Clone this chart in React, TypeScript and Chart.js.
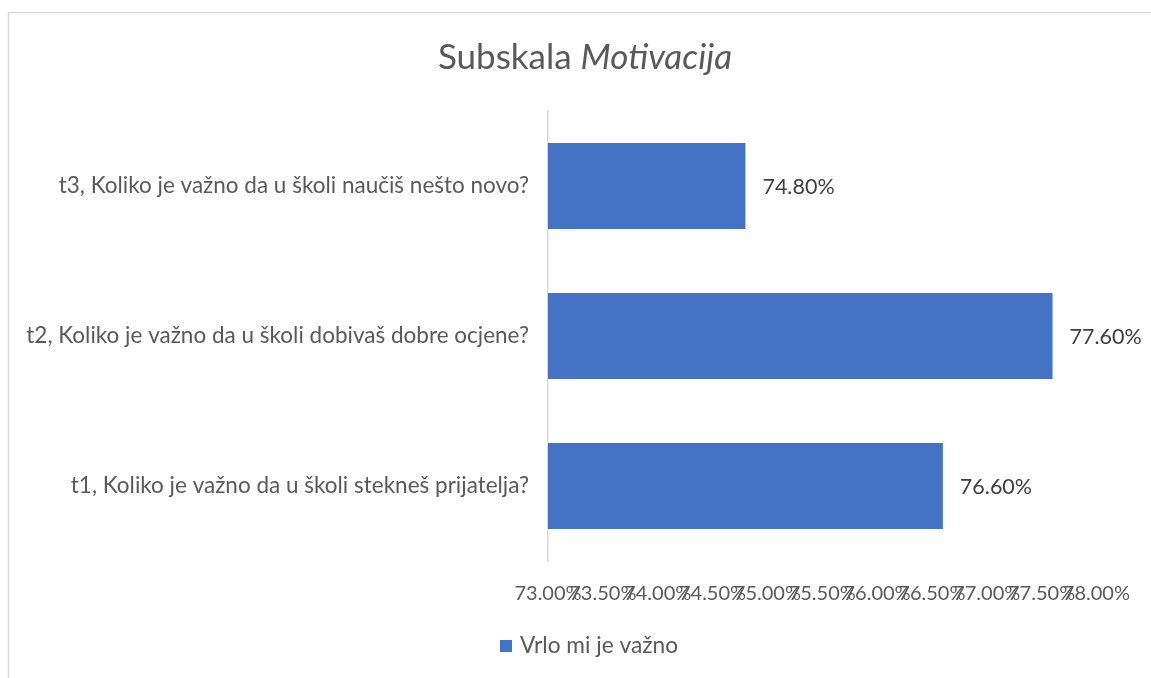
import React, { useEffect, useRef } from "react";
import { Chart, registerables } from "chart.js";

Chart.register(...registerables);

const categories = [
  "t3, Koliko je važno da u školi naučiš nešto novo?",
  "t2, Koliko je važno da u školi dobivaš dobre ocjene?",
  "t1, Koliko je važno da u školi stekneš prijatelja?",
];
const values = [74.8, 77.6, 76.6];
const seriesName = "Vrlo mi je važno";
const titleNormal = "Subskala ";
const titleItalic = "Motivacija";
const axisMin = 73;
const axisMax = 78;
const axisStep = 0.5;

const FONT = "Lato, 'Open Sans', sans-serif";
const BLUE = "#4472C4";
const GREY = "#595959";

const W = 1151;
const H = 678;

const decorPlugin = {
  id: "decor",
  beforeDraw(chart: any) {
    const ctx = chart.ctx;
    ctx.save();
    ctx.fillStyle = "#ffffff";
    ctx.fillRect(0, 0, W, H);
    ctx.strokeStyle = "#d9d9d9";
    ctx.lineWidth = 1.5;
    ctx.beginPath();
    ctx.moveTo(8.5, H);
    ctx.lineTo(8.5, 12.5);
    ctx.lineTo(W, 12.5);
    ctx.stroke();
    ctx.restore();
  },
  afterDraw(chart: any) {
    const ctx = chart.ctx;
    ctx.save();
    // title
    ctx.fillStyle = GREY;
    ctx.textBaseline = "middle";
    const tSize = 35;
    ctx.font = `${tSize}px ${FONT}`;
    const w1 = ctx.measureText(titleNormal).width;
    ctx.font = `italic ${tSize}px ${FONT}`;
    const w2 = ctx.measureText(titleItalic).width;
    const start = 585 - (w1 + w2) / 2;
    ctx.font = `${tSize}px ${FONT}`;
    ctx.textAlign = "left";
    ctx.fillText(titleNormal, start, 58);
    ctx.font = `italic ${tSize}px ${FONT}`;
    ctx.fillText(titleItalic, start + w1, 58);

    // data labels
    const meta = chart.getDatasetMeta(0);
    ctx.font = `21.5px ${FONT}`;
    ctx.fillStyle = "#404040";
    meta.data.forEach((bar: any, i: number) => {
      const v = chart.data.datasets[0].data[i] as number;
      ctx.fillText(v.toFixed(2) + "%", bar.x + 17, bar.y + 1);
    });

    // legend
    ctx.fillStyle = BLUE;
    ctx.fillRect(500, 640, 12, 12);
    ctx.fillStyle = GREY;
    ctx.font = `22.7px ${FONT}`;
    ctx.fillText(chart.data.datasets[0].label, 520, 646);
    ctx.restore();
  },
};

export default function App() {
  const ref = useRef<HTMLCanvasElement | null>(null);
  useEffect(() => {
    if (!ref.current) return;
    const chart = new Chart(ref.current, {
      type: "bar",
      data: {
        labels: categories,
        datasets: [
          {
            label: seriesName,
            data: values,
            backgroundColor: BLUE,
            barPercentage: 0.573,
            categoryPercentage: 1,
          },
        ],
      },
      options: {
        indexAxis: "y",
        responsive: false,
        animation: false,
        layout: { padding: { top: 111, bottom: 75, left: 0, right: 53 } },
        plugins: {
          legend: { display: false },
          title: { display: false },
          tooltip: { enabled: false },
        },
        scales: {
          x: {
            min: axisMin,
            max: axisMax,
            grid: { display: false, drawTicks: false },
            border: { display: false },
            ticks: {
              stepSize: axisStep,
              autoSkip: false,
              maxRotation: 0,
              minRotation: 0,
              padding: 21,
              color: GREY,
              font: { family: FONT, size: 20 },
              callback: (v: any) => Number(v).toFixed(2) + "%",
            },
            afterFit: (s: any) => {
              s.height = 42;
            },
          },
          y: {
            grid: { display: false, drawTicks: false },
            border: { display: true, color: "#d9d9d9", width: 1.5 },
            ticks: {
              padding: 19,
              color: GREY,
              font: { family: FONT, size: 22.5 },
            },
            afterFit: (s: any) => {
              s.width = 548;
            },
          },
        },
      },
      plugins: [decorPlugin],
    });
    return () => chart.destroy();
  }, []);
  return (
    <div style={{ position: "fixed", left: 0, top: 0, width: W, height: H }}>
      <canvas ref={ref} width={W} height={H} style={{ display: "block" }} />
    </div>
  );
}
